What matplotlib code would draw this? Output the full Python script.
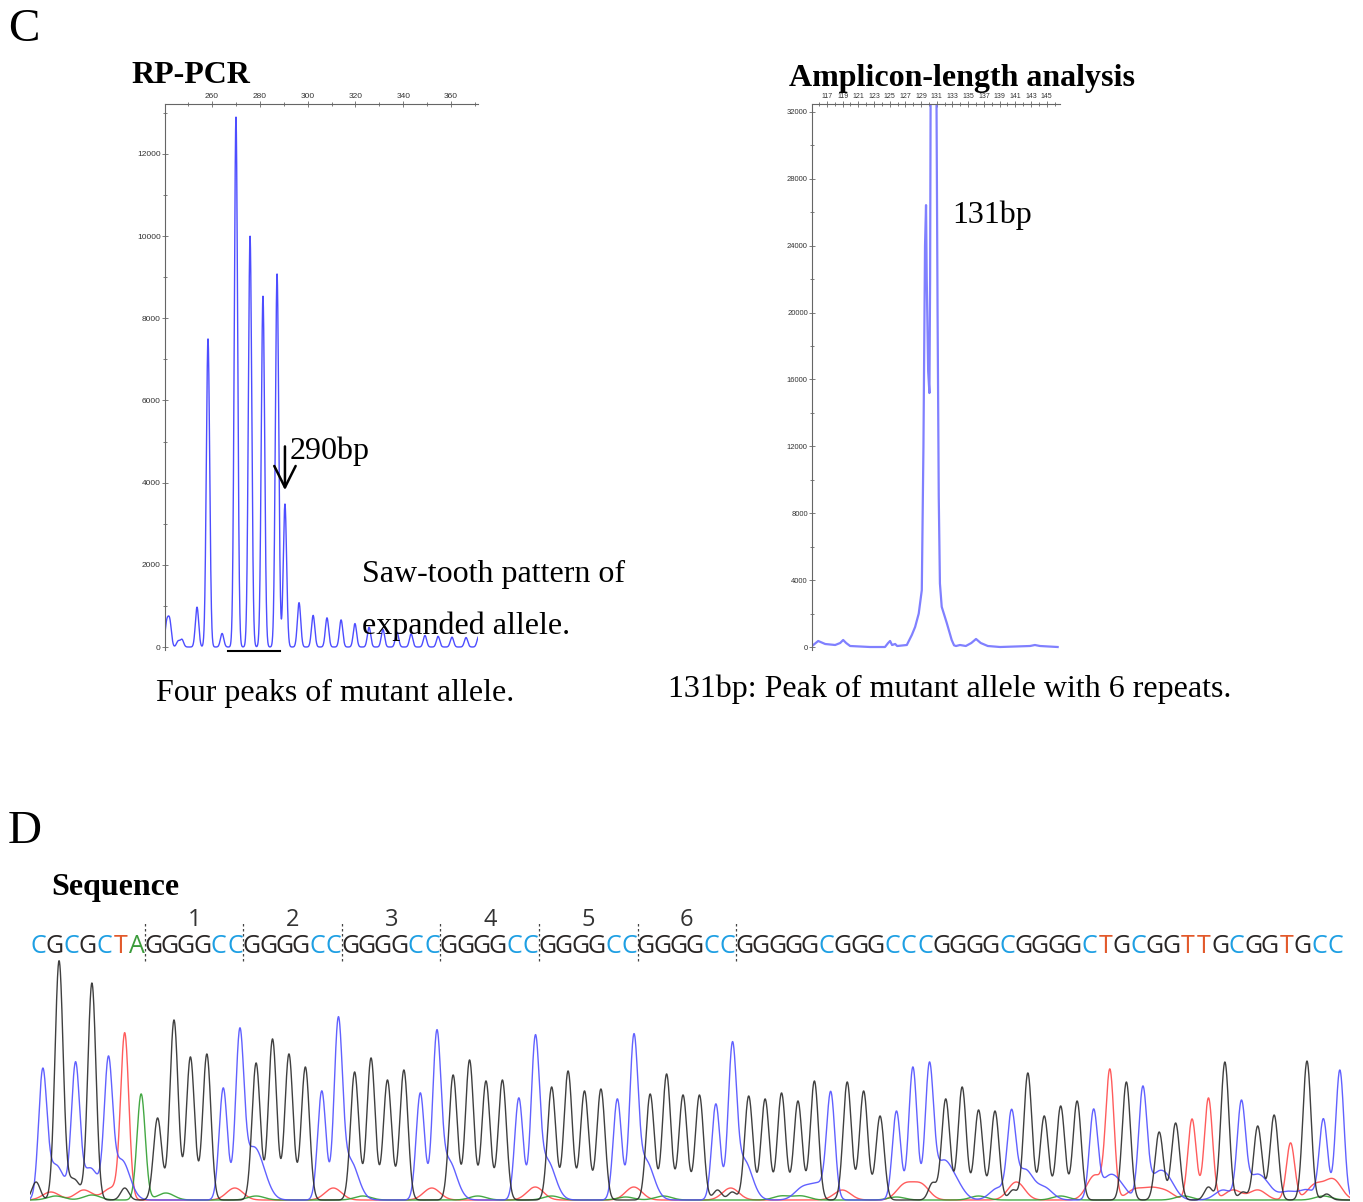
import numpy as np
import matplotlib.pyplot as plt
from matplotlib.ticker import MultipleLocator, FixedLocator

W, H = 1363, 1202
SERIF = 'Liberation Serif'

# ---- RP-PCR trace: peak positions (bp) and heights (RFU)
rp_bp = [241.0, 242.3, 245.8, 247.4, 253.7, 258.3, 264.2, 270.0, 275.9, 281.3,
         287.2, 290.5, 296.4, 302.3, 308.1, 314.0, 319.8, 325.7, 331.5, 337.4,
         343.3, 349.1, 354.6, 360.4, 366.3, 371.6]
rp_rfu = [560, 600, 140, 180, 970, 7500, 330, 12900, 10000, 8540,
          9080, 3480, 1080, 770, 710, 660, 570, 480, 430, 360,
          320, 280, 260, 240, 230, 260]

# ---- amplicon-length trace (bp, RFU)
amp_bp = [115.26, 115.89, 116.78, 118.05, 118.69, 119.07, 119.45, 119.96, 122.5,
          124.4, 124.8, 125.05, 125.3, 125.7, 125.95, 127.18, 127.82, 128.24,
          128.7, 129.09, 129.3, 129.5, 129.63, 129.72, 129.9, 130.06, 130.15,
          130.22, 130.85, 130.95, 131.1, 131.25, 131.4, 131.63, 132.27, 132.9,
          133.2, 133.45, 133.96, 134.7, 135.4, 136.0, 136.6, 137.5, 139.07,
          142.88, 143.5, 144.15, 146.4]
amp_rfu = [120, 360, 180, 120, 240, 420, 240, 60, 0,
           0, 240, 360, 120, 180, 60, 120, 720, 1200,
           2000, 3400, 12000, 24000, 26430, 22000, 16500, 15190, 22000,
           34000, 34000, 34000, 20000, 9000, 3800, 2400, 1440, 420,
           100, 60, 120, 60, 240, 480, 240, 60, 0,
           60, 120, 60, 0]

# ---- Sanger sequence
seq = "CGCGCTA" + "GGGGCC" * 6 + "GGGGGCGGGCCCGGGGCGGGGCTGCGGTTGCGGTGCC"
n_repeats = 6
seq_heights = [122, 239, 130, 217, 130, 164, 106,
               82, 180, 143, 146, 112, 156,
               137, 161, 146, 133, 109, 168,
               128, 142, 120, 130, 107, 155,
               125, 140, 119, 120, 102, 150,
               113, 129, 109, 111, 101, 151,
               106, 126, 105, 105, 96, 143,
               104, 101, 107, 99, 119, 103, 118, 109, 84, 89, 133, 128,
               101, 113, 90, 89, 79, 127, 84, 94, 99, 87, 126, 118, 108,
               68, 77, 81, 102, 138, 92, 74, 85, 57, 139, 80, 130]

# small background signals per channel (base index, height)
minor = {
    'C': ([0.8, 2.9, 4.8, 12.7, 13.3, 18.7, 24.7, 30.7, 36.7, 42.7, 46.3, 47.3,
           54.8, 55.6, 58.2, 59.8, 61.0, 64.9, 65.6, 67.8, 68.5, 71.9, 73.7, 74.4,
           75.8, 77.0],
          [35, 32, 40, 40, 22, 40, 40, 40, 40, 40, 12, 15,
           35, 15, 12, 30, 12, 20, 12, 20, 18, 10, 18, 15,
           8, 10]),
    'T': ([0.5, 2.5, 4.2, 11.7, 17.7, 23.7, 30.0, 36.0, 41.9, 48.7, 52.5, 53.5,
           59.3, 64.1, 66.5, 67.5, 68.4, 72.5, 74.0, 77.5, 78.6],
          [8, 10, 12, 12, 12, 12, 13, 13, 12, 10, 15, 15,
           18, 25, 10, 10, 8, 10, 10, 15, 20]),
    'A': ([0.8, 3.0, 7.5, 13.0, 19.5, 26.5, 31.0, 35.5, 37.8, 45.0, 46.2, 52.0,
           57.0, 62.0, 69.5, 78.0],
          [4, 5, 7, 4, 4, 4, 4, 3, 4, 4, 4, 3, 4, 4, 4, 4]),
    'G': ([-0.4, 1.7, 2.1, 5.0, 41.1, 42.0, 54.2, 59.1, 71.0, 73.1, 78.2],
          [18, 15, 14, 12, 10, 8, 17, 10, 13, 8, 6]),
}

trace_col = {'G': '#2b2b2b', 'C': '#5050ff', 'T': '#ff4a4a', 'A': '#2f9f2f'}
text_col = {'G': '#2a2626', 'C': '#1e9fe3', 'T': '#e2592b', 'A': '#3b9b3b'}


def peaks(x, pos, hts, sig):
    pos = np.asarray(pos, float)[:, None]
    hts = np.asarray(hts, float)[:, None]
    return (hts * np.exp(-0.5 * ((x[None, :] - pos) / sig) ** 2)).sum(axis=0)


def box(l, t, r, b):
    return fig.add_axes([l / W, 1 - b / H, (r - l) / W, (b - t) / H])


def style(ax, xsize, ysize):
    for s in ['right', 'bottom']:
        ax.spines[s].set_visible(False)
    for s in ['left', 'top']:
        ax.spines[s].set_color('#666666')
        ax.spines[s].set_linewidth(0.8)
    ax.xaxis.tick_top()
    ax.tick_params(which='both', direction='inout', width=0.6, color='#666666',
                   labelcolor='#333333', pad=1)
    ax.tick_params(axis='x', labelsize=xsize)
    ax.tick_params(axis='y', labelsize=ysize)
    ax.tick_params(which='major', length=4)
    ax.tick_params(which='minor', length=3)
    for lab in ax.get_xticklabels() + ax.get_yticklabels():
        lab.set_family('Liberation Sans')


def ftext(px, py, s, size=23, weight='normal', **kw):
    fig.text(px / W, 1 - py / H, s, fontsize=size, fontweight=weight,
             family=SERIF, ha='left', va='baseline', **kw)


fig = plt.figure(figsize=(W / 100, H / 100), dpi=100)

# ---------------- C: RP-PCR
ax1 = box(165, 104, 478, 650)
x1 = np.linspace(240.3, 371.3, 4000)
ax1.plot(x1, peaks(x1, rp_bp, rp_rfu, 0.7), color='#4d4dff', lw=1.0)
ax1.set_xlim(240.3, 371.3)
ax1.set_ylim(-73, 13217)
ax1.xaxis.set_major_locator(FixedLocator(range(260, 361, 20)))
ax1.xaxis.set_minor_locator(FixedLocator(range(250, 371, 10)))
ax1.yaxis.set_major_locator(FixedLocator(range(0, 12001, 2000)))
ax1.yaxis.set_minor_locator(FixedLocator(range(1000, 13001, 2000)))
style(ax1, 6, 6)
ax1.annotate('', xy=(290.5, 3750), xytext=(290.5, 4950),
             arrowprops=dict(arrowstyle='->,head_length=0.7,head_width=0.35',
                             lw=1.8, color='k', mutation_scale=22))
ax1.plot([266.7, 288.4], [-97, -97], color='k', lw=1.5, clip_on=False)

# ---------------- C: amplicon length
ax2 = box(812, 104, 1060, 650)
ax2.plot(amp_bp, amp_rfu, color='#8080ff', lw=1.6)
ax2.set_xlim(115.1, 146.7)
ax2.set_ylim(-179, 32478)
ax2.xaxis.set_major_locator(FixedLocator(range(117, 146, 2)))
ax2.xaxis.set_minor_locator(MultipleLocator(1))
ax2.yaxis.set_major_locator(FixedLocator(range(0, 32001, 4000)))
ax2.yaxis.set_minor_locator(FixedLocator(range(2000, 32001, 4000)))
style(ax2, 5, 5.5)

# ---------------- D: sequence chromatogram
ax3 = box(30, 900, 1350, 1202)
ax3.set_xlim(0, 80.39)
ax3.set_ylim(-2, 300)
ax3.axis('off')
x3 = np.linspace(0, 80.39, 6000)
for base in ['T', 'A', 'C', 'G']:
    idx = [i for i, c in enumerate(seq) if c == base]
    y = peaks(x3, [i + 0.77 for i in idx], [seq_heights[i] for i in idx], 0.25)
    y += peaks(x3, [p + 0.77 for p in minor[base][0]], minor[base][1],
               0.25 if base == 'G' else 0.5)
    ax3.plot(x3, y, color=trace_col[base], lw=1.0, alpha=0.9)

for i, c in enumerate(seq):
    ax3.text(i + 0.5, 247, c, ha='center', va='baseline', fontsize=18,
             family='Open Sans', color=text_col[c])
for k in range(n_repeats + 1):
    ax3.plot([7 + 6 * k] * 2, [239, 278], color='#444444', lw=0.9,
             linestyle=(0, (2, 2)))
    if k < n_repeats:
        ax3.text(10 + 6 * k, 274, str(k + 1), ha='center', va='baseline',
                 fontsize=17, family='Open Sans', color='#333333')

# ---------------- labels
ftext(8, 41, 'C', size=34)
ftext(8, 843, 'D', size=34)
ftext(131, 83, 'RP-PCR', weight='bold')
ftext(789, 86, 'Amplicon-length analysis', weight='bold')
ftext(51, 895, 'Sequence', weight='bold')
ftext(290, 459, '290bp')
ftext(952, 223, '131bp')
ftext(362, 582, 'Saw-tooth pattern of')
ftext(362, 634, 'expanded allele.')
ftext(156, 701, 'Four peaks of mutant allele.')
ftext(668, 697, '131bp: Peak of mutant allele with 6 repeats.')

fig.savefig('out.png', dpi=100)
